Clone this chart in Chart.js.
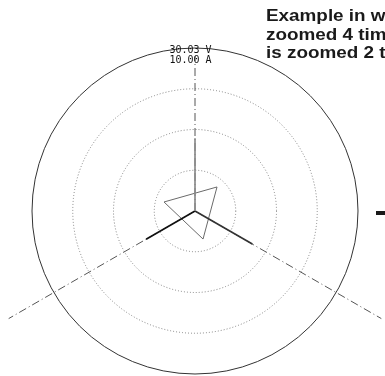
<!DOCTYPE html>
<html>
<head>
<meta charset="utf-8">
<script src="https://cdn.jsdelivr.net/npm/chart.js@4/dist/chart.umd.min.js"></script>
<style>
  html, body { margin: 0; padding: 0; background: #fff; overflow: hidden; }
  canvas { display: block; }
</style>
</head>
<body>
<canvas id="vector" width="385" height="376"></canvas>
<script>
// Full-scale ranges printed at the top of the vector display
const rangeLabels = ['30.03 V', '10.00 A'];
const voltRange = 30.03;
const currentRange = 10.00;

// Voltage phasors (V) and their phase angles (deg, counter-clockwise from 3 o'clock)
const voltMagnitudes = [13.4, 10.4, 12.2];
const voltAngles = [90, 210, 330];

// Current phasors (A) and their phase angles (deg)
const currentMagnitudes = [2.00, 1.98, 1.79];
const currentAngles = [47.5, 163.8, 286.0];

// Rings as fractions of the full-scale range, and the three reference axes
const ringFractions = [0.25, 0.5, 0.75, 1.0];
const axisAngles = [90, 210, 330];
const axisLengths = [0.95, 1.32, 1.32];

// Caption beside the display
const noteLines = ['Example in which the voltage is', 'zoomed 4 times and the current', 'is zoomed 2 times.'];

const toXY = (r, deg) => ({ x: r * Math.cos(deg * Math.PI / 180), y: r * Math.sin(deg * Math.PI / 180) });
const origin = { x: 0, y: 0 };

const voltColors = ['#8c8c8c', '#111111', '#333333'];

const datasets = [];

// voltage phasors
voltMagnitudes.forEach((v, i) => {
  datasets.push({
    data: [origin, toXY(v / voltRange, voltAngles[i])],
    borderColor: voltColors[i],
    borderWidth: 1.7,
    showLine: true,
    pointRadius: 0
  });
});

// triangle joining the current phasor tips
const tips = currentMagnitudes.map((a, i) => toXY(a / currentRange, currentAngles[i]));
datasets.push({
  data: [...tips, tips[0]],
  borderColor: '#6a6a6a',
  borderWidth: 1,
  showLine: true,
  pointRadius: 0
});

// dash-dot reference axes
axisAngles.forEach((deg, i) => {
  datasets.push({
    data: [origin, toXY(axisLengths[i], deg)],
    borderColor: '#555555',
    borderWidth: 1,
    borderDash: [8, 3, 1, 3],
    showLine: true,
    pointRadius: 0
  });
});

const ringsPlugin = {
  id: 'rings',
  beforeDatasetsDraw(chart) {
    const { ctx, scales: { x, y } } = chart;
    const cx = x.getPixelForValue(0);
    const cy = y.getPixelForValue(0);
    ctx.save();
    ringFractions.forEach((f) => {
      const r = x.getPixelForValue(f) - cx;
      ctx.beginPath();
      ctx.arc(cx, cy, r, 0, Math.PI * 2);
      if (f === 1) {
        ctx.setLineDash([]);
        ctx.strokeStyle = '#333333';
        ctx.lineWidth = 1;
      } else {
        ctx.setLineDash([1, 2]);
        ctx.strokeStyle = '#808080';
        ctx.lineWidth = 1;
      }
      ctx.stroke();
    });
    ctx.restore();
  },
  afterDraw(chart) {
    const { ctx, scales: { x, y } } = chart;
    const cx = x.getPixelForValue(0);
    const topY = y.getPixelForValue(1);
    ctx.save();
    // range readout
    ctx.font = '10px "DejaVu Sans Mono"';
    ctx.fillStyle = '#111';
    ctx.textAlign = 'center';
    ctx.textBaseline = 'alphabetic';
    ctx.fillText(rangeLabels[0], cx - 4.5, topY + 5);
    ctx.fillText(rangeLabels[1], cx - 4.5, topY + 15);
    // caption, set in a slightly widened bold face
    ctx.font = 'bold 17px "Liberation Sans", Arial, sans-serif';
    ctx.textAlign = 'left';
    ctx.fillStyle = '#1a1a1a';
    const baselines = [21, 40, 58];
    noteLines.forEach((t, i) => {
      ctx.save();
      ctx.translate(266, baselines[i]);
      ctx.scale(1.11, 1);
      ctx.fillText(t, 0, 0);
      ctx.restore();
    });
    // leader mark at the right edge
    ctx.fillStyle = '#1a1a1a';
    ctx.fillRect(376, 211, 9, 4);
    ctx.restore();
  }
};

const unit = 163; // pixels per full-scale radius
new Chart(document.getElementById('vector'), {
  type: 'scatter',
  data: { datasets },
  options: {
    responsive: false,
    animation: false,
    devicePixelRatio: 1,
    layout: { padding: 0 },
    plugins: { legend: { display: false }, tooltip: { enabled: false } },
    elements: { line: { tension: 0 }, point: { radius: 0 } },
    scales: {
      x: { type: 'linear', min: -195 / unit, max: 190 / unit, display: false },
      y: { type: 'linear', min: -165 / unit, max: 211 / unit, display: false }
    }
  },
  plugins: [ringsPlugin]
});
</script>
</body>
</html>
